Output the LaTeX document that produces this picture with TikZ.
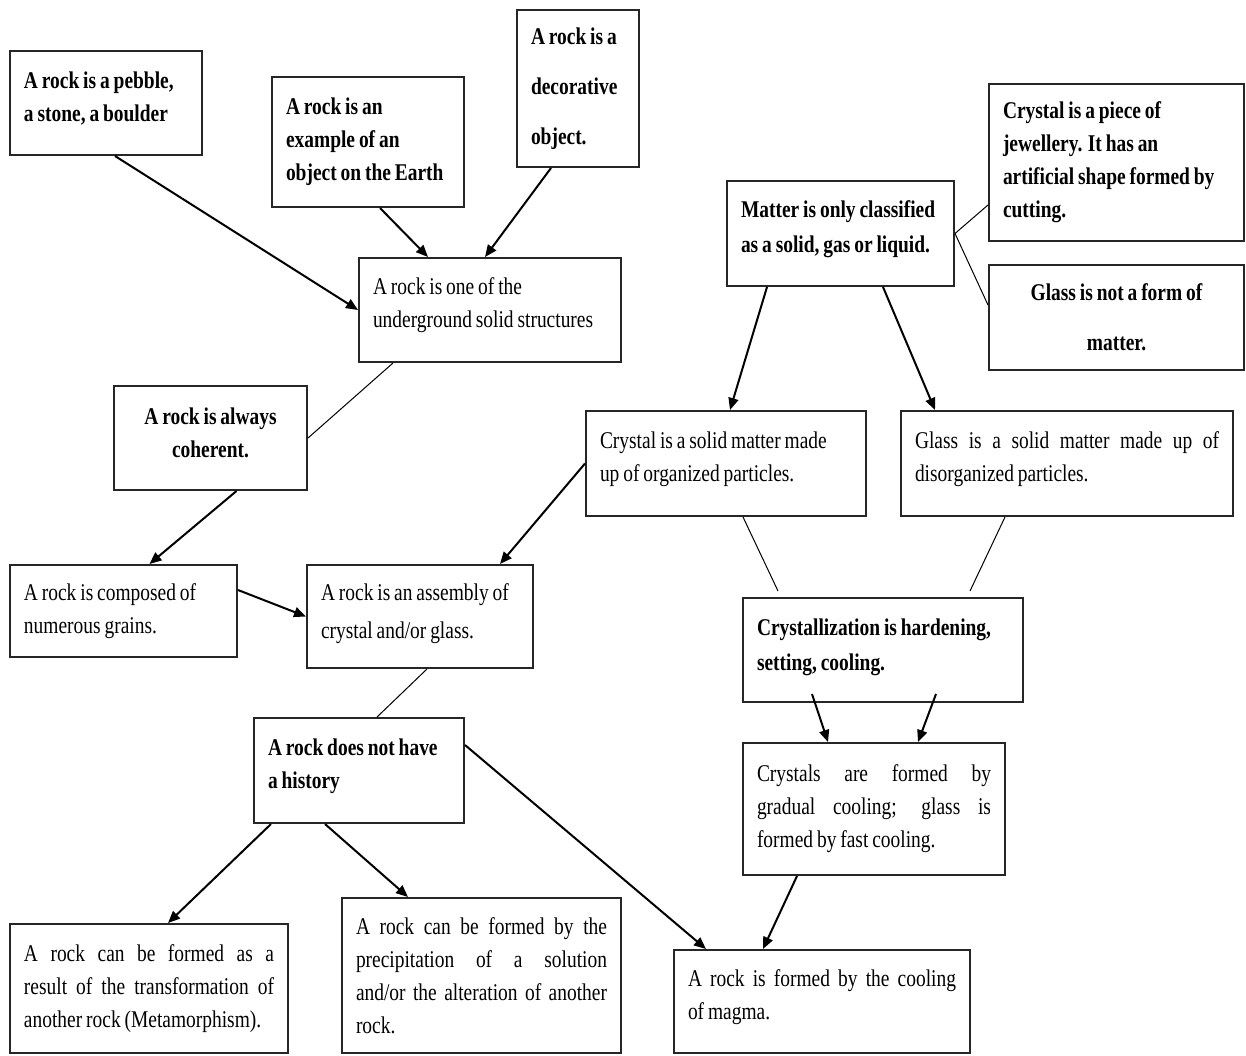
\documentclass[tikz,border=0pt]{standalone}
\usepackage{fontspec}
\setmainfont{Liberation Serif}[FakeStretch=0.81,WordSpace=0.8]
\usetikzlibrary{arrows.meta}
\newcommand{\boxlift}[1]{\par\hrule height #1 depth 0pt width 0pt}
\tikzset{
      rockbox/.style={
        draw=black!85,
        line width=1pt,
        fill=white,
        inner sep=7pt,
        align=flush left,
        font=\fontsize{12}{16.5}\selectfont
      },
      boldbox/.style={
        rockbox,
        font=\fontsize{12}{16.5}\selectfont\bfseries
      },
      widebox/.style={
        rockbox,
        font=\fontsize{12}{25}\selectfont\bfseries
      },
      linkarrow/.style={-{Triangle[length=6pt,width=5pt]}, line width=1pt},
      linkline/.style={line width=0.5pt}
    }
\begin{document}
\begin{tikzpicture}[x=0.5pt,y=-0.5pt]
    \useasboundingbox (0,0) rectangle (1246,1055);
    \node[boldbox, minimum width=96pt, minimum height=52pt, text width=82pt] (pebble) at (106,103) {A rock is a pebble,\\ a stone, a boulder\boxlift{4pt}};
    \node[boldbox, minimum width=96pt, minimum height=65pt, text width=82pt] (example) at (368,142) {A rock is an\\ example of an\\ object on the Earth};
    \node[widebox, minimum width=61pt, minimum height=78.5pt, text width=47pt] (decor) at (578,88.5) {A rock is a\\ decorative\\ object.};
    \node[rockbox, minimum width=131pt, minimum height=52pt, text width=117pt] (under) at (490,310) {A rock is one of the\\ underground solid structures\boxlift{5pt}};
    \node[boldbox, align=flush center, minimum width=96.5pt, minimum height=52pt, text width=82.5pt] (coherent) at (210.5,438) {A rock is always\\ coherent.\boxlift{5pt}};
    \node[rockbox, minimum width=113.5pt, minimum height=46pt, text width=99.5pt] (grains) at (123.5,611) {A rock is composed of\\ numerous grains.};
    \node[rockbox, font=\fontsize{12}{19}\selectfont, minimum width=113pt, minimum height=51.5pt, text width=99pt] (assembly) at (420,616.5) {A rock is an assembly of\\ crystal and/or glass.\boxlift{2.5pt}};
    \node[boldbox, font=\fontsize{12}{17.5}\selectfont\bfseries, minimum width=113.5pt, minimum height=52.5pt, text width=99.5pt] (matter) at (840.5,233.5) {Matter is only classified\\ as a solid, gas or liquid.\boxlift{4pt}};
    \node[boldbox, minimum width=127.5pt, minimum height=78.5pt, text width=113.5pt] (jewel) at (1116.5,162.5) {Crystal is a piece of\\ jewellery. It has an\\ artificial shape formed by\\ cutting.};
    \node[widebox, align=flush center, minimum width=127.5pt, minimum height=52.5pt, text width=113.5pt] (notmatter) at (1116.5,317.5) {Glass is not a form of\\ matter.};
    \node[rockbox, minimum width=140pt, minimum height=52.5pt, text width=126pt] (crystal) at (726,463.5) {Crystal is a solid matter made\\ up of organized particles.\boxlift{4pt}};
    \node[rockbox, align=justify, minimum width=166pt, minimum height=52.5pt, text width=152pt] (glass) at (1067,463.5) {Glass is a solid matter made up of\linebreak disorganized particles.\boxlift{4pt}};
    \node[boldbox, font=\fontsize{12}{17.5}\selectfont\bfseries, minimum width=140pt, minimum height=52pt, text width=126pt] (crystallize) at (883,650) {Crystallization is hardening,\\ setting, cooling.\boxlift{2.5pt}};
    \node[rockbox, align=justify, minimum width=131pt, minimum height=66pt, text width=117pt] (cooling) at (874,809) {Crystals are formed by\linebreak gradual cooling; glass is\linebreak formed by fast cooling.};
    \node[boldbox, minimum width=105pt, minimum height=52.5pt, text width=91pt] (history) at (359,770.5) {A rock does not have\\ a history\boxlift{4pt}};
    \node[rockbox, align=justify, minimum width=139pt, minimum height=64.5pt, text width=125pt] (meta) at (149,988.5) {A rock can be formed as a\linebreak result of the transformation of\linebreak another rock (Metamorphism).};
    \node[rockbox, align=justify, minimum width=139.5pt, minimum height=77.5pt, text width=125.5pt] (precip) at (481.5,975.5) {A rock can be formed by the\linebreak precipitation of a solution\linebreak and/or the alteration of another\linebreak rock.};
    \node[rockbox, align=justify, minimum width=148pt, minimum height=51.5pt, text width=134pt] (magma) at (822,1001.5) {A rock is formed by the cooling\linebreak of magma.\boxlift{4pt}};
    \draw[linkarrow] ([xshift=4.5pt]pebble.south) -- (under.west);
    \draw[linkarrow] ([xshift=6pt]example.south) -- ([xshift=-31pt]under.north);
    \draw[linkarrow] ([xshift=-13.5pt]decor.south) -- ([xshift=-2.5pt]under.north);
    \draw[linkline] ([xshift=-48.5pt]under.south) -- (coherent.east);
    \draw[linkarrow] ([xshift=13pt]coherent.south) -- ([xshift=13pt]grains.north);
    \draw[linkarrow] ([yshift=10.5pt]grains.east) -- (assembly.west);
    \draw[linkarrow] (crystal.west) -- ([xshift=40pt]assembly.north);
    \draw[linkline] ([xshift=3.5pt]assembly.south) -- ([xshift=9pt]history.north);
    \draw[linkarrow] ([xshift=-44pt]history.south) -- ([xshift=9.5pt]meta.north);
    \draw[linkarrow] ([xshift=-17pt]history.south) -- ([xshift=-36.75pt]precip.north);
    \draw[linkarrow] ([yshift=12.75pt]history.east) -- ([xshift=-58pt]magma.north);
    \draw[linkarrow] ([xshift=-36.75pt]matter.south) -- ([xshift=2pt]crystal.north);
    \draw[linkarrow] ([xshift=21.25pt]matter.south) -- ([xshift=-66pt]glass.north);
    \draw[linkline] (matter.east) -- ([yshift=-21.25pt]jewel.west);
    \draw[linkline] (matter.east) -- ([yshift=6.25pt]notmatter.west);
    \draw[linkline] ([xshift=8.5pt]crystal.south) -- ([xshift=-52.5pt,yshift=3pt]crystallize.north);
    \draw[linkline] ([xshift=-31pt]glass.south) -- ([xshift=43.5pt,yshift=3pt]crystallize.north);
    \draw[linkarrow] ([xshift=-35.5pt,yshift=4.5pt]crystallize.south) -- ([xshift=-23pt]cooling.north);
    \draw[linkarrow] ([xshift=26.5pt,yshift=4.5pt]crystallize.south) -- ([xshift=22pt]cooling.north);
    \draw[linkarrow] ([xshift=-38.5pt]cooling.south) -- ([xshift=-29.5pt]magma.north);
\end{tikzpicture}
\end{document}
